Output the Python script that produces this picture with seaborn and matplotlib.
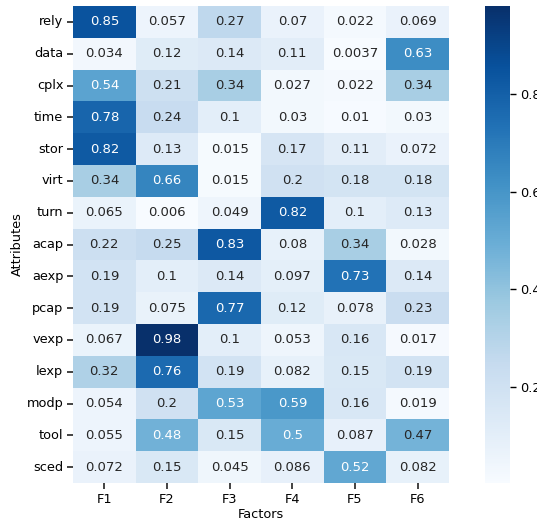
import numpy as np
import pandas as pd
import matplotlib
matplotlib.use('Agg')
import matplotlib.pyplot as plt
import seaborn as sns


atributi = ['rely', 'data', 'cplx', 'time', 'stor', 'virt', 'turn', 'acap',
            'aexp', 'pcap', 'vexp', 'lexp', 'modp', 'tool', 'sced']
faktorji = ['F1', 'F2', 'F3', 'F4', 'F5', 'F6']

rely = [0.85, 0.057, 0.27, 0.07, 0.022, 0.069]
data = [0.034, 0.12, 0.14, 0.11, 0.0037, 0.63]
cplx = [0.54, 0.21, 0.34, 0.027, 0.022, 0.34]
time = [0.78, 0.24, 0.1, 0.03, 0.01, 0.03]
stor = [0.82, 0.13, 0.015, 0.17, 0.11, 0.072]
virt = [0.34, 0.66, 0.015, 0.2, 0.18, 0.18]
turn = [0.065, 0.006, 0.049, 0.82, 0.1, 0.13]
acap = [0.22, 0.25, 0.83, 0.08, 0.34, 0.028]
aexp = [0.19, 0.1, 0.14, 0.097, 0.73, 0.14]
pcap = [0.19, 0.075, 0.77, 0.12, 0.078, 0.23]
vexp = [0.067, 0.98, 0.1, 0.053, 0.16, 0.017]
lexp = [0.32, 0.76, 0.19, 0.082, 0.15, 0.19]
modp = [0.054, 0.2, 0.53, 0.59, 0.16, 0.019]
tool = [0.055, 0.48, 0.15, 0.5, 0.087, 0.47]
sced = [0.072, 0.15, 0.045, 0.086, 0.52, 0.082]

vrstice = [rely, data, cplx, time, stor, virt, turn, acap,
           aexp, pcap, vexp, lexp, modp, tool, sced]
df = pd.DataFrame(vrstice, index=atributi, columns=faktorji)

W, H = 537, 522
fig = plt.figure(figsize=(W / 100, H / 100), dpi=100)
ax = fig.add_axes([73 / W, 1 - 483 / H, (449 - 73) / W, (483 - 6) / H])
cax = fig.add_axes([485 / W, 1 - 483 / H, (510 - 485) / W, (483 - 6) / H])

sns.heatmap(df, annot=True, cmap='Blues', ax=ax, cbar_ax=cax,
            annot_kws={'fontsize': 9.5})
ax.set_xlabel('Factors', fontsize=9.3, labelpad=2)
ax.set_ylabel('Attributes', fontsize=9.3, labelpad=2)
ax.tick_params(which='major', direction='out', left=True, bottom=True,
               right=False, top=False, length=4, width=1.2, color='#222222',
               labelsize=9.3, pad=3)
for kljukica in ax.xaxis.get_major_ticks() + ax.yaxis.get_major_ticks():
    kljukica.tick1line.set_visible(True)
    kljukica.tick1line.set_markersize(4)
    kljukica.tick1line.set_markeredgewidth(1.2)
    kljukica.tick2line.set_visible(False)
plt.setp(ax.get_yticklabels(), rotation=0)
cax.tick_params(labelsize=9.3, length=4, width=1)

fig.savefig('out.png', dpi=100)
